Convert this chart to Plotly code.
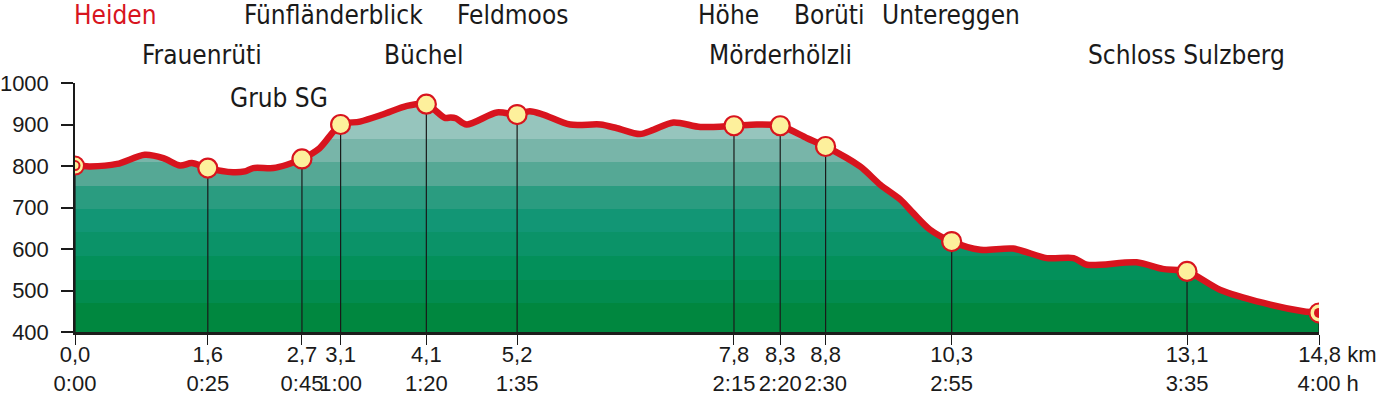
import plotly.graph_objects as go

# ---------------- data ----------------
profile_km = [0.0, 0.18, 0.50, 0.83, 1.05, 1.25, 1.39, 1.58, 1.88, 2.02, 2.12, 2.36, 2.52, 2.70,
              2.91, 3.16, 3.39, 3.66, 3.95, 4.18, 4.40, 4.47, 4.53, 4.66, 5.02, 5.26, 5.41, 5.57,
              5.89, 6.25, 6.45, 6.72, 6.88, 7.12, 7.44, 7.84, 8.11, 8.39, 8.71, 8.93, 9.34, 9.58,
              9.82, 9.97, 10.17, 10.43, 10.77, 11.16, 11.56, 11.88, 12.04, 12.63, 12.94, 13.23,
              13.62, 14.14, 14.61, 14.80]
profile_elev = [801, 799, 805, 827, 819, 801, 807, 795, 785, 787, 795, 795, 803, 817,
                843, 900, 907, 924, 945, 949, 916, 917, 915, 900, 929, 924, 932, 924,
                900, 900, 891, 877, 887, 905, 894, 897, 900, 897, 867, 847, 799, 755,
                719, 687, 647, 618, 598, 601, 578, 578, 562, 568, 552, 546,
                502, 470, 450, 446]

waypoint_km = [0.0, 1.58, 2.70, 3.16, 4.18, 5.26, 7.84, 8.39, 8.93, 10.43, 13.23, 14.80]
waypoint_elev = [801, 795, 817, 900, 949, 924, 897, 897, 847, 618, 546, 446]
km_labels = ["0,0", "1,6", "2,7", "3,1", "4,1", "5,2", "7,8", "8,3", "8,8", "10,3", "13,1", "14,8"]
time_labels = ["0:00", "0:25", "0:45", "1:00", "1:20", "1:35", "2:15", "2:20", "2:30", "2:55", "3:35", "4:00"]
elev_ticks = [400, 500, 600, 700, 800, 900, 1000]

place_names = ["Heiden", "Fünfländerblick", "Feldmoos", "Höhe", "Borüti", "Untereggen", "Goldach",
               "Frauenrüti", "Büchel", "Mörderhölzli", "Schloss Sulzberg", "Grub SG"]

# ---------------- layout helpers ----------------
label_layout = [  # (x in km, row, anchor, red)
    (0.48, 0, "center", True), (3.07, 0, "center", False), (5.21, 0, "center", False),
    (7.78, 0, "center", False), (8.97, 0, "center", False), (10.42, 0, "center", False),
    (15.47, 0, "right", True),
    (1.51, 1, "center", False), (4.15, 1, "center", False), (8.39, 1, "center", False),
    (13.22, 1, "center", False), (2.43, 2, "center", False),
]
row_y = [1.275, 1.112, 0.938]  # paper coords

RED = "#d8141e"
YEL = "#fdf09c"
LABEL_FONT = "Liberation Sans Narrow, DejaVu Sans Condensed, Roboto, sans-serif"
AXIS_FONT = "Liberation Sans, Arial, sans-serif"

band_edges = [400, 470, 525, 582, 640, 697, 752, 809, 866, 1000]
band_colors = ["#00873f", "#028c4f", "#03905a", "#0b9368", "#129675", "#2a9c80",
               "#55a895", "#78b5a9", "#96c5bd"]
cs = []
for i, c in enumerate(band_colors):
    lo = (band_edges[i] - 400) / 600
    hi = (band_edges[i + 1] - 400) / 600
    cs.append([lo, c])
    cs.append([hi, c])

fig = go.Figure()

# filled profile with banded gradient
fig.add_trace(go.Scatter(
    x=profile_km, y=profile_elev, mode="lines",
    line=dict(color="rgba(0,0,0,0)", width=0, shape="spline", smoothing=0.8),
    fill="tozeroy",
    fillgradient=dict(type="vertical", colorscale=cs, start=400, stop=1000),
    hoverinfo="skip", showlegend=False,
))

# vertical drop lines
vx, vy = [], []
for xk, yk in zip(waypoint_km, waypoint_elev):
    vx += [xk, xk, None]
    vy += [400, yk, None]
fig.add_trace(go.Scatter(x=vx, y=vy, mode="lines", line=dict(color="#1a1a1a", width=1.2),
                         hoverinfo="skip", showlegend=False))

# red profile line
fig.add_trace(go.Scatter(
    x=profile_km, y=profile_elev, mode="lines",
    line=dict(color=RED, width=6.5, shape="spline", smoothing=0.8),
    hoverinfo="skip", showlegend=False,
))

# intermediate waypoints
fig.add_trace(go.Scatter(
    x=waypoint_km[1:-1], y=waypoint_elev[1:-1], mode="markers",
    marker=dict(size=19, color=YEL, line=dict(color=RED, width=2.2)),
    hoverinfo="skip", showlegend=False,
))
# start marker (concentric)
fig.add_trace(go.Scatter(
    x=[waypoint_km[0]], y=[waypoint_elev[0]], mode="markers",
    marker=dict(size=18, color=YEL, line=dict(color=RED, width=2)),
    hoverinfo="skip", showlegend=False,
))
fig.add_trace(go.Scatter(
    x=[waypoint_km[0]], y=[waypoint_elev[0]], mode="markers",
    marker=dict(size=9, color=YEL, line=dict(color=RED, width=2)),
    hoverinfo="skip", showlegend=False,
))
# end marker
fig.add_trace(go.Scatter(
    x=[waypoint_km[-1]], y=[waypoint_elev[-1]], mode="markers",
    marker=dict(size=19, color=YEL, line=dict(color=RED, width=2)),
    hoverinfo="skip", showlegend=False,
))
fig.add_trace(go.Scatter(
    x=[waypoint_km[-1]], y=[waypoint_elev[-1]], mode="markers",
    marker=dict(size=10, color=RED, line=dict(color=RED, width=0)),
    hoverinfo="skip", showlegend=False,
))

# tick texts
NB = "\u00a0"
ticktext = []
for i, (k, t) in enumerate(zip(km_labels, time_labels)):
    if i == len(km_labels) - 1:
        ticktext.append(NB * 6 + k + " km<br>" + NB * 3 + t + " h")
    else:
        ticktext.append(k + "<br>" + t)

annotations = []
for name, (xk, row, anchor, red) in zip(place_names, label_layout):
    annotations.append(dict(
        x=xk, y=row_y[row], xref="x", yref="paper", text=name, showarrow=False,
        xanchor=anchor, yanchor="middle",
        font=dict(family=LABEL_FONT, size=26, color=RED if red else "#1a1a1a"),
    ))

fig.update_layout(
    width=1377, height=396,
    margin=dict(l=75, r=58, t=83, b=64, autoexpand=False),
    paper_bgcolor="white", plot_bgcolor="white",
    showlegend=False,
    annotations=annotations,
    xaxis=dict(
        range=[0, 14.8], tickmode="array", tickvals=waypoint_km, ticktext=ticktext,
        tickangle=0, automargin=False, ticklabelstandoff=-9,
        showgrid=False, zeroline=False, showline=True, linecolor="#1d1d1b", linewidth=3,
        ticks="outside", ticklen=10, tickwidth=1.3, tickcolor="#1a1a1a",
        tickfont=dict(family=AXIS_FONT, size=22, color="#1a1a1a"),
        fixedrange=True, layer="above traces",
    ),
    yaxis=dict(
        range=[400, 1000], tickmode="array", tickvals=elev_ticks, automargin=False,
        showgrid=False, zeroline=False, showline=True, linecolor="#1a1a1a", linewidth=1.5,
        ticks="outside", ticklen=12, tickwidth=1.5, tickcolor="#1a1a1a",
        ticklabelstandoff=8,
        tickfont=dict(family=AXIS_FONT, size=22, color="#1a1a1a"),
        fixedrange=True, layer="above traces",
    ),
)

fig.write_html("out.html")
